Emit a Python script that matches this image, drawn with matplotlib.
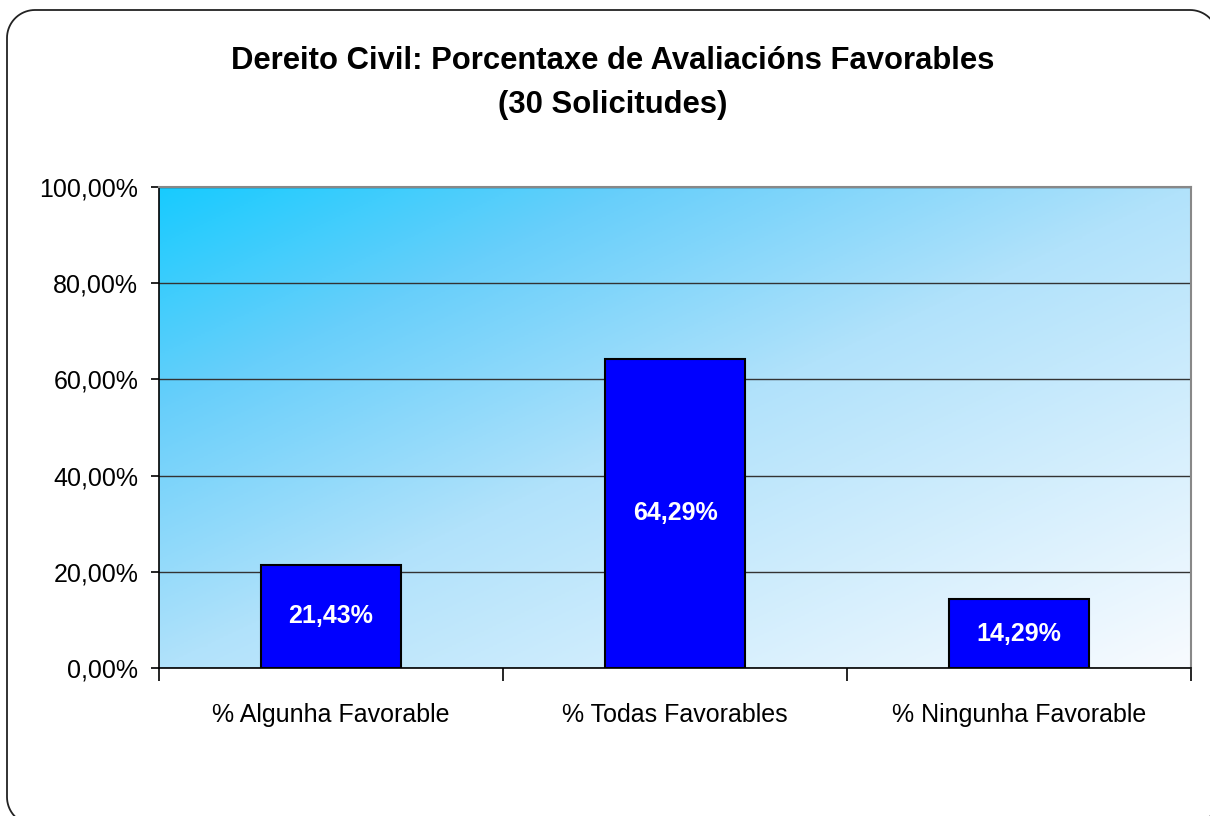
import matplotlib.pyplot as plt
import matplotlib.patches as mpatches
from matplotlib.path import Path
from matplotlib.transforms import IdentityTransform
from matplotlib.colors import LinearSegmentedColormap
from matplotlib.ticker import FuncFormatter
import numpy as np

plt.rcParams["font.family"] = ["Liberation Sans", "DejaVu Sans"]

# data
categories = ["% Algunha Favorable", "% Todas Favorables", "% Ningunha Favorable"]
values = [21.43, 64.29, 14.29]
title = "Dereito Civil: Porcentaxe de Avaliacións Favorables\n(30 Solicitudes)"

BAR_COLOR = "#0000FF"
bg_cmap = LinearSegmentedColormap.from_list(
    "bg", [(0.0, "#18CBFF"), (0.23, "#68CFFA"), (0.5, "#B1E2FB"), (1.0, "#F8FBFF")]
)


def rounded_rect(x0, y0, x1, y1, r):
    """Closed path of a rounded rectangle in pixel coordinates."""
    verts = []
    for cx, cy, a0 in [(x1 - r, y0 + r, 270), (x1 - r, y1 - r, 0),
                       (x0 + r, y1 - r, 90), (x0 + r, y0 + r, 180)]:
        t = np.radians(np.linspace(a0, a0 + 90, 20))
        verts += list(zip(cx + r * np.cos(t), cy + r * np.sin(t)))
    verts.append(verts[0])
    return Path(verts, closed=True)


fig = plt.figure(figsize=(12.1, 8.16), dpi=100)
ax = fig.add_axes([159 / 1210, 1 - 668 / 816, 1032 / 1210, 481 / 816])

# rounded chart border (display pixels, origin bottom-left)
frame = mpatches.PathPatch(rounded_rect(7, -9, 1218, 806, 28),
                           transform=IdentityTransform(),
                           facecolor="none", edgecolor="#222222", linewidth=1.3)
fig.patches.append(frame)

# diagonal gradient background
n = 256
gx, gy = np.meshgrid(np.linspace(0, 1, n), np.linspace(0, 1, n))
ax.imshow((gx + gy) / 2, cmap=bg_cmap, vmin=0, vmax=1, extent=[0, 1, 0, 1],
          transform=ax.transAxes, aspect="auto", zorder=0, origin="upper")

x = np.arange(len(categories))
ax.bar(x, values, width=0.405, color=BAR_COLOR, edgecolor="black",
       linewidth=1.5, zorder=3)
for xi, v in zip(x, values):
    ax.text(xi, v / 2, f"{v:.2f}%".replace(".", ","), ha="center", va="center",
            color="white", fontsize=18, fontweight="bold", zorder=4)

ax.set_xlim(-0.5, len(categories) - 0.5)
ax.set_ylim(0, 100)
ax.set_yticks(np.arange(0, 101, 20))
ax.yaxis.set_major_formatter(FuncFormatter(lambda v, _: f"{v:.2f}%".replace(".", ",")))
ax.set_xticks(x)
ax.set_xticklabels(categories)
ax.set_xticks(np.arange(-0.5, len(categories), 1), minor=True)
ax.tick_params(axis="x", which="major", length=0, pad=25, labelsize=18)
ax.tick_params(axis="x", which="minor", length=9, width=1.2, color="black")
ax.tick_params(axis="y", length=6, width=1.2, labelsize=18, pad=9)

ax.yaxis.grid(True, color="#333333", linewidth=1.0, zorder=1)
ax.set_axisbelow(True)
for s in ["top", "right"]:
    ax.spines[s].set_color("#888888")
    ax.spines[s].set_linewidth(1.5)
for s in ["left", "bottom"]:
    ax.spines[s].set_color("black")
    ax.spines[s].set_linewidth(1.2)

fig.text(613 / 1210, 1 - 83 / 816, title, ha="center", va="center",
         fontsize=22.3, fontweight="bold", linespacing=1.58)

fig.savefig("out.png", dpi=100)
